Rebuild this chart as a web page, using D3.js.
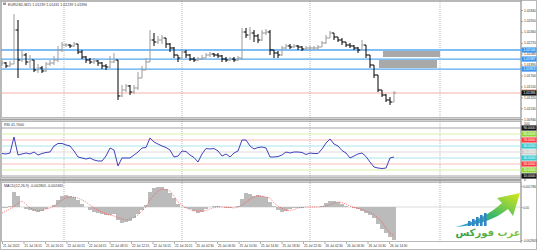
<!DOCTYPE html>
<html><head><meta charset="utf-8">
<script src="https://cdn.jsdelivr.net/npm/d3@7"></script>
<style>html,body{margin:0;padding:0;background:#fff;overflow:hidden}</style>
</head><body><svg id="c" width="537" height="250"></svg>
<script>
// ---------- DATA ----------
const symbol = "EURUSD,M15";
const firstOpen = 1.01900;
const closes = [1.01918,1.01866,1.01900,1.02492,1.01970,1.02057,1.01935,1.01970,1.01796,1.01831,
 1.01779,1.01900,1.01918,1.01970,1.02144,1.02231,1.02231,1.02214,1.02248,1.02109,
 1.02022,1.01970,1.01935,1.01953,1.01918,1.01866,1.01848,1.01935,1.01970,1.01344,
 1.01448,1.01518,1.01413,1.01483,1.01657,1.01796,1.01935,1.02318,1.02283,1.02318,
 1.02353,1.02248,1.02179,1.02057,1.02005,1.02109,1.02057,1.01987,1.01970,1.01987,
 1.02005,1.02057,1.02074,1.02057,1.02040,1.01987,1.01970,1.01987,1.01970,1.02005,
 1.02457,1.02405,1.02440,1.02388,1.02318,1.02440,1.02457,1.02144,1.02092,1.02057,
 1.02179,1.02214,1.02196,1.02214,1.02196,1.02161,1.02179,1.02179,1.02179,1.02196,
 1.02266,1.02353,1.02440,1.02370,1.02318,1.02283,1.02231,1.02214,1.02179,1.02144,
 1.02231,1.02057,1.01883,1.01709,1.01448,1.01361,1.01274,1.01239,1.01396];
const highs = [1.01970,1.01935,1.01953,1.02770,1.02666,1.02144,1.02092,1.02057,1.01970,1.01900,
 1.01866,1.01935,1.01970,1.02040,1.02214,1.02283,1.02266,1.02248,1.02283,1.02248,
 1.02144,1.02040,1.02005,1.02005,1.01970,1.01935,1.01900,1.02040,1.02092,1.01970,
 1.01535,1.01552,1.01535,1.01535,1.01761,1.01866,1.02005,1.02492,1.02440,1.02388,
 1.02405,1.02353,1.02266,1.02196,1.02057,1.02161,1.02144,1.02074,1.02022,1.02022,
 1.02057,1.02092,1.02109,1.02092,1.02092,1.02057,1.02022,1.02022,1.02022,1.02040,
 1.02527,1.02527,1.02544,1.02492,1.02422,1.02492,1.02509,1.02492,1.02144,1.02127,
 1.02214,1.02248,1.02248,1.02248,1.02231,1.02214,1.02214,1.02214,1.02214,1.02231,
 1.02301,1.02405,1.02475,1.02440,1.02370,1.02353,1.02283,1.02266,1.02231,1.02196,
 1.02318,1.02231,1.02057,1.01883,1.01709,1.01448,1.01378,1.01326,1.01431];
const lows = [1.01866,1.01831,1.01848,1.01900,1.01657,1.01935,1.01883,1.01831,1.01761,1.01744,
 1.01744,1.01761,1.01866,1.01883,1.01935,1.02109,1.02196,1.02179,1.02196,1.02074,
 1.01987,1.01918,1.01900,1.01900,1.01866,1.01813,1.01796,1.01831,1.01918,1.01274,
 1.01326,1.01413,1.01361,1.01378,1.01448,1.01657,1.01796,1.01935,1.02214,1.02248,
 1.02248,1.02179,1.02109,1.02005,1.01935,1.02005,1.02005,1.01953,1.01935,1.01953,
 1.01970,1.02005,1.02022,1.02022,1.02005,1.01935,1.01935,1.01953,1.01935,1.01953,
 1.01970,1.02353,1.02318,1.02283,1.02266,1.02301,1.02405,1.02057,1.02005,1.02005,
 1.02040,1.02161,1.02161,1.02179,1.02144,1.02127,1.02144,1.02144,1.02144,1.02144,
 1.02196,1.02248,1.02353,1.02318,1.02283,1.02231,1.02196,1.02179,1.02144,1.02092,
 1.02144,1.02005,1.01831,1.01657,1.01413,1.01326,1.01239,1.01187,1.01239];
const rsi = [47.5,46.7,48.3,75.0,45.0,46.7,48.3,46.7,50.0,45.0,
 47.5,49.2,50.0,60.0,64.2,64.2,61.7,60.0,51.7,41.7,
 40.0,38.3,40.0,36.7,35.0,35.0,43.3,56.7,53.3,26.7,
 40.0,40.0,40.0,45.0,50.0,56.7,57.5,73.3,66.7,63.3,
 60.0,57.5,53.3,41.7,43.3,51.7,50.8,45.0,40.8,33.3,
 46.7,55.8,55.0,55.8,51.7,43.3,46.7,41.7,48.3,51.7,
 70.0,70.0,60.0,55.0,57.5,58.3,56.7,41.7,41.7,42.5,
 45.0,50.0,48.3,50.0,50.0,49.2,45.8,48.3,47.5,47.5,
 55.0,65.0,71.7,63.3,60.0,52.5,48.3,40.0,43.3,46.7,
 48.3,42.5,33.3,25.0,23.3,22.5,23.3,40.0,41.7];
const macdHist = [-0.000085,-0.000043,0.000085,0.001275,0.000935,0,-0.00017,-0.000255,-0.00034,-0.000425,
 -0.00034,-0.00017,0,0.00017,0.000595,0.000935,0.00102,0.000935,0.00085,0.000595,
 0.000255,0,-0.000255,-0.000425,-0.00051,-0.000595,-0.00068,-0.00068,-0.000595,-0.001105,
 -0.00136,-0.001275,-0.00119,-0.000935,-0.000595,-0.000255,0.00017,0.001275,0.001615,0.0017,
 0.0017,0.00153,0.00119,0.000765,0.000255,0,-0.000085,-0.00017,-0.00034,-0.00051,
 -0.000425,-0.00017,0,0.000085,0.000085,0,-0.000043,-0.000043,0,0.000085,
 0.00068,0.00119,0.001105,0.000935,0.00102,0.000935,0.00085,0.000425,0.000085,-0.000255,
 -0.000425,-0.00034,-0.00017,-0.000085,-0.000043,-0.000043,0,0,0,0,
 0.000085,0.00034,0.00051,0.00051,0.000425,0.000255,0.000085,0,-0.000085,-0.00017,
 -0.00034,-0.00051,-0.00068,-0.000935,-0.001445,-0.00187,-0.00221,-0.00255,-0.002805];
const macdSignal = [-0.00051,-0.00034,-0.00017,0,0.00034,0.00051,0.000255,-0.000085,-0.000255,-0.00034,
 -0.000298,-0.00017,-0.000085,0.000085,0.00034,0.000595,0.000808,0.00085,0.00085,0.000765,
 0.000595,0.000425,0.00017,-0.000085,-0.000255,-0.000425,-0.000595,-0.00068,-0.000765,-0.000893,
 -0.00102,-0.001105,-0.00102,-0.000893,-0.00068,-0.00034,0,0.000595,0.00102,0.00136,
 0.00153,0.001488,0.00136,0.000935,0.000425,0.00017,-0.000085,-0.000213,-0.00034,-0.00034,
 -0.00034,-0.000298,-0.00017,-0.000043,0,0,0,-0.000043,-0.000085,0,
 0.00017,0.000425,0.00068,0.00085,0.000935,0.000935,0.00085,0.000765,0.00034,0.000085,
 -0.000128,-0.000298,-0.000298,-0.000213,-0.000085,-0.000043,0,0,0,0,
 0.000043,0.000085,0.00017,0.00034,0.000425,0.000383,0.000255,0.000085,-0.000043,-0.000128,
 -0.000213,-0.00034,-0.000468,-0.000638,-0.000935,-0.001275,-0.001785,-0.00221,-0.002465];
const timeLabels = ["21 Jul 2022","21 Jul 16:15","21 Jul 20:15","22 Jul 00:15","22 Jul 04:15","22 Jul 08:15",
 "22 Jul 12:15","22 Jul 16:15","22 Jul 20:15","25 Jul 02:30","25 Jul 06:30","25 Jul 10:30","25 Jul 14:30",
 "25 Jul 18:30","25 Jul 22:30","26 Jul 02:30","26 Jul 06:30","26 Jul 10:30","26 Jul 14:30"];
const barsPerLabel = 5.375;
const priceTicks = [1.02840,1.02650,1.02460,1.02270,1.02080,1.01890,1.01700,1.01510,1.01320,1.01130,1.00940];
const levelPrices = [1.02144,1.01987,1.01813];
const zones = [{t0:95.25,t1:109.5,p0:1.02127,p1:1.02022},{t0:94.25,t1:108.75,p0:1.01970,p1:1.01831}];
const daySeps = [15.5,45,77,109.5];
const rsiLevels = [90,80,70,60,50,40,30,20,10];
const rsiLineColors = ["#9a9a9a","#d6ef9c","#f6b4b0","#9fe3ea","#d8d8d8","#9fe3ea","#f6b4b0","#d6ef9c","#9a9a9a"];
const rsiBoxColors = ["#111111","#8fd63a","#ff3b3b","#35c8d0","#cfcfcf","#35c8d0","#ff3b3b","#8fd63a","#111111"];
const macdTicks = [0.001786,0,-0.002805];
const logoText = "عرب فوركس";

// ---------- LAYOUT ----------
const F = "'Liberation Sans',Arial,sans-serif";
const svg = d3.select('#c');
const N = closes.length;
const x = d3.scaleLinear().domain([0,129.75]).range([2,521]);
const yP = d3.scaleLinear().domain([priceTicks[0], priceTicks[priceTicks.length-1]]).range([10,119.2]);
const yR = d3.scaleLinear().domain([90,10]).range([128,176]);
const yM = d3.scaleLinear().domain([macdTicks[0], macdTicks[2]]).range([186,240]);
const panels = {main:[1,118], rsi:[121,178], macd:[182,242]};
const opens = closes.map((c,i)=> i ? closes[i-1] : firstOpen);

const defs = svg.append('defs');
Object.entries(panels).forEach(([k,[t,b]])=>{
  defs.append('clipPath').attr('id','clip-'+k).append('rect').attr('x',1).attr('y',t).attr('width',520).attr('height',b-t);
});
const lg = defs.append('linearGradient').attr('id','arrowGrad').attr('x1','0%').attr('y1','100%').attr('x2','100%').attr('y2','0%');
lg.append('stop').attr('offset','0%').attr('stop-color','#2f9fd6');
lg.append('stop').attr('offset','45%').attr('stop-color','#39b86a');
lg.append('stop').attr('offset','100%').attr('stop-color','#d8e81c');
const tg = defs.append('linearGradient').attr('id','textGrad').attr('x1','0%').attr('y1','0%').attr('x2','100%').attr('y2','0%');
tg.append('stop').attr('offset','0%').attr('stop-color','#2e9e4a');
tg.append('stop').attr('offset','100%').attr('stop-color','#8cc63f');

svg.append('rect').attr('x',0).attr('y',0).attr('width',537).attr('height',250).attr('fill','#fff');
svg.append('rect').attr('x',0.5).attr('y',0.5).attr('width',536).attr('height',249).attr('fill','none').attr('stroke','#b8b8b8');

// panel frames and separators
Object.values(panels).forEach(([t,b])=>{
  svg.append('rect').attr('x',1.5).attr('y',t+0.5).attr('width',519.5).attr('height',b-t-1)
    .attr('fill','none').attr('stroke','#a8a8a8').attr('stroke-width',0.8);
});
[[118,121],[178,182]].forEach(([a,b])=>{
  svg.append('rect').attr('x',0).attr('y',a+0.5).attr('width',521).attr('height',b-a-1).attr('fill','#a4a4a4');
});
svg.append('line').attr('x1',521).attr('x2',521).attr('y1',0).attr('y2',243).attr('stroke','#8a8a8a').attr('stroke-width',0.8);

// day separators
svg.append('g').selectAll('line').data(daySeps).join('line')
  .attr('x1',d=>x(d)).attr('x2',d=>x(d)).attr('y1',1).attr('y2',242)
  .attr('stroke','#8c8c8c').attr('stroke-width',0.6).attr('stroke-dasharray','1,1');

// ---------- MAIN PANEL ----------
const gm = svg.append('g').attr('clip-path','url(#clip-main)');
gm.selectAll('rect.zone').data(zones).join('rect').attr('class','zone')
  .attr('x',d=>x(d.t0)).attr('width',d=>x(d.t1)-x(d.t0))
  .attr('y',d=>yP(d.p0)).attr('height',d=>yP(d.p1)-yP(d.p0)).attr('fill','#a9a9a9');
gm.selectAll('line.lvl').data(levelPrices).join('line').attr('class','lvl')
  .attr('x1',1).attr('x2',521).attr('y1',d=>yP(d)).attr('y2',d=>yP(d))
  .attr('stroke','#55a7f2').attr('stroke-width',1.3);
gm.append('line').attr('x1',1).attr('x2',521).attr('y1',yP(closes[N-1])).attr('y2',yP(closes[N-1]))
  .attr('stroke','#f3a89e').attr('stroke-width',0.9);
const half = (x(1)-x(0))/2;
const bars = gm.selectAll('g.bar').data(closes.map((c,i)=>({i,o:opens[i],h:highs[i],l:lows[i],c})))
  .join('g').attr('class','bar').attr('stroke',d=>d.c>=d.o?'#9b9b9b':'#000').attr('stroke-width',1);
bars.append('line').attr('x1',d=>x(d.i)).attr('x2',d=>x(d.i)).attr('y1',d=>yP(d.h)).attr('y2',d=>yP(d.l));
bars.append('line').attr('x1',d=>x(d.i)-half).attr('x2',d=>x(d.i)).attr('y1',d=>yP(d.o)).attr('y2',d=>yP(d.o));
bars.append('line').attr('x1',d=>x(d.i)).attr('x2',d=>x(d.i)+half).attr('y1',d=>yP(d.c)).attr('y2',d=>yP(d.c));
const f5 = d3.format('.5f');
svg.append('rect').attr('x',3).attr('y',2.5).attr('width',3).attr('height',2.5).attr('fill','#9a9a9a');
svg.append('text').attr('x',8).attr('y',5.6).attr('font-family',F).attr('font-size',3.6).attr('fill','#333')
  .text(`${symbol}  ${f5(opens[N-1])} ${f5(highs[N-1])} ${f5(lows[N-1])} ${f5(closes[N-1])}`);

const ax = svg.append('g').attr('transform','translate(521,0)')
  .call(d3.axisRight(yP).tickValues(priceTicks).tickSize(2).tickFormat(f5));
ax.select('.domain').remove();
ax.selectAll('line').attr('stroke','#777').attr('stroke-width',0.6);
ax.selectAll('text').attr('x',3).attr('font-family',F).attr('font-size',3.3).attr('fill','#333');
function axisTag(v, y, bg, fg){
  const g = svg.append('g');
  g.append('rect').attr('x',521.5).attr('y',y-2.6).attr('width',15).attr('height',5.2).attr('fill',bg);
  g.append('text').attr('x',523.5).attr('y',y+1.2).attr('font-family',F).attr('font-size',3.3).attr('fill',fg).text(v);
}
levelPrices.forEach(p=>axisTag(f5(p), yP(p), '#3d93ee', '#fff'));
svg.append('rect').attr('x',521.5).attr('y',yP(closes[N-1])-3.4).attr('width',15).attr('height',1).attr('fill','#f07a50');
axisTag(f5(closes[N-1]), yP(closes[N-1]), '#111', '#fff');

// ---------- RSI PANEL ----------
const gr = svg.append('g').attr('clip-path','url(#clip-rsi)');
gr.selectAll('line').data(rsiLevels).join('line')
  .attr('x1',1).attr('x2',521).attr('y1',d=>yR(d)).attr('y2',d=>yR(d))
  .attr('stroke',(d,i)=>rsiLineColors[i]).attr('stroke-width',0.9);
gr.append('path').datum(rsi).attr('fill','none').attr('stroke','#2d2db8').attr('stroke-width',0.9)
  .attr('d', d3.line().x((d,i)=>x(i)).y(d=>yR(d)));
svg.append('text').attr('x',4).attr('y',126.3).attr('font-family',F).attr('font-size',3.6).attr('fill','#333')
  .text(`RSI ${rsi[N-1].toFixed(4)}`);
rsiLevels.forEach((v,i)=>axisTag(v.toFixed(4), yR(v), rsiBoxColors[i], '#fff'));
svg.append('text').attr('x',524).attr('y',124.5).attr('font-family',F).attr('font-size',3.3).attr('fill','#333').text('100');
svg.append('text').attr('x',524).attr('y',181).attr('font-family',F).attr('font-size',3.3).attr('fill','#333').text('0');

// ---------- MACD PANEL ----------
const gd = svg.append('g').attr('clip-path','url(#clip-macd)');
const bw = x(1)-x(0);
gd.append('line').attr('x1',1).attr('x2',521).attr('y1',yM(0)).attr('y2',yM(0)).attr('stroke','#c4c4c4').attr('stroke-width',0.6);
gd.selectAll('rect').data(macdHist).join('rect')
  .attr('x',(d,i)=>x(i)-bw/2).attr('width',bw+0.3)
  .attr('y',d=>yM(Math.max(d,0))).attr('height',d=>Math.abs(yM(d)-yM(0)))
  .attr('fill','#bbbbbb').attr('shape-rendering','crispEdges');
gd.append('path').datum(macdSignal).attr('fill','none').attr('stroke','#ff3c3c').attr('stroke-width',0.7)
  .attr('stroke-dasharray','1,1.2')
  .attr('d', d3.line().x((d,i)=>x(i)).y(d=>yM(d)));
svg.append('text').attr('x',4).attr('y',187.3).attr('font-family',F).attr('font-size',3.6).attr('fill','#333')
  .text(`MACD(12,26,9) ${macdHist[N-1].toFixed(6)} ${macdSignal[N-1].toFixed(6)}`);
const am = svg.append('g').attr('transform','translate(521,0)')
  .call(d3.axisRight(yM).tickValues(macdTicks).tickSize(1.5).tickFormat(d=>d===0?'0.00':d.toFixed(6)));
am.select('.domain').remove();
am.selectAll('line').attr('stroke','#777').attr('stroke-width',0.6);
am.selectAll('text').attr('x',2).attr('font-family',F).attr('font-size',3.1).attr('fill','#333');

// ---------- TIME AXIS ----------
const at = svg.append('g').attr('transform','translate(0,242)')
  .call(d3.axisBottom(x).tickValues(timeLabels.map((t,k)=>k*barsPerLabel)).tickSize(2)
    .tickFormat((d,k)=>timeLabels[k]));
at.select('.domain').remove();
at.selectAll('line').attr('stroke','#777').attr('stroke-width',0.6);
at.selectAll('text').attr('text-anchor','start').attr('x',0.5).attr('y',2.4).attr('dy','0.71em')
  .attr('font-family',F).attr('font-size',3.2).attr('fill','#333');

// ---------- LOGO ----------
const lgG = svg.append('g');
lgG.append('path').attr('fill','url(#arrowGrad)')
  .attr('d','M455,227 C474,223 491,213 502,203 L497,198 L520,193 L513,216 L508,209 C496,219 477,226 455,227 Z');
[5,7,9,11,13].forEach((h,k)=>{
  lgG.append('rect').attr('x',468+k*4).attr('y',226-h).attr('width',2.6).attr('height',h).attr('fill','#2f86c8');
});
lgG.append('text').attr('x',488).attr('y',236).attr('text-anchor','middle').attr('font-family',"'DejaVu Sans',sans-serif")
  .attr('font-weight','bold').attr('font-size',10).attr('fill','url(#textGrad)').text(logoText);
</script>
</body></html>
